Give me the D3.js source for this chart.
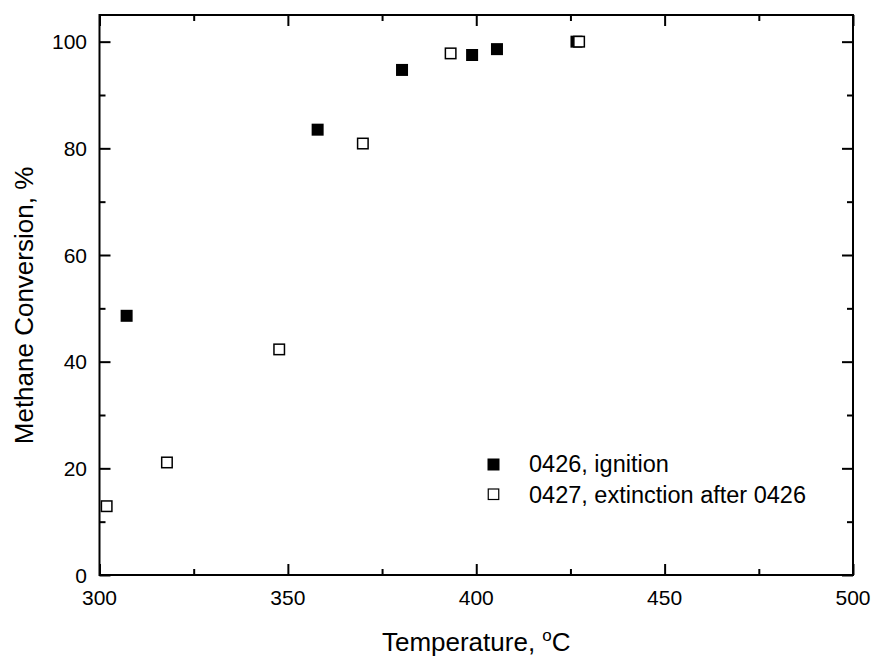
<!DOCTYPE html>
<html>
<head>
<meta charset="utf-8">
<script src="https://cdn.jsdelivr.net/npm/d3@7"></script>
<style>
  body { margin: 0; background: #fff; }
  text { font-family: Arial, "Liberation Sans", sans-serif; fill: #000; }
</style>
</head>
<body>
<svg id="chart" width="874" height="657"></svg>
<script>
// Data
var ignitionT = [307.2, 357.9, 380.3, 398.9, 405.5, 426.6];
var ignitionX = [48.6, 83.5, 94.7, 97.5, 98.6, 100.0];
var extinctionT = [301.9, 317.9, 347.7, 369.9, 393.2, 427.3];
var extinctionX = [12.9, 21.1, 42.3, 80.9, 97.8, 100.0];
var xTicks = [300, 350, 400, 450, 500];
var yTicks = [0, 20, 40, 60, 80, 100];
var legendLabels = ["0426, ignition", "0427, extinction after 0426"];

var svg = d3.select("#chart");
// plot box (note: "top" is taken by window.top, so use other names)
var plotL = 99.5, plotR = 853, plotT = 15, plotB = 575;

var x = d3.scaleLinear().domain([300, 500]).range([plotL, plotR]);
var y = d3.scaleLinear().domain([0, 105]).range([plotB, plotT]);

var g = svg.append("g");

// frame
g.append("rect")
  .attr("x", plotL).attr("y", plotT)
  .attr("width", plotR - plotL).attr("height", plotB - plotT)
  .attr("fill", "none").attr("stroke", "#000").attr("stroke-width", 2);

// inward ticks on all four sides
function ticks(axisFn, scale, values, size, transform) {
  g.append("g")
    .attr("transform", transform)
    .call(axisFn(scale).tickValues(values).tickSize(size).tickFormat(""))
    .call(function(s) {
      s.select(".domain").remove();
      s.selectAll(".tick line").attr("stroke", "#000").attr("stroke-width", 2);
    });
}
var xMinor = d3.range(325, 500, 50);
var yMinor = d3.range(10, 105, 20);
ticks(d3.axisTop, x, xTicks, 11, "translate(0," + plotB + ")");
ticks(d3.axisTop, x, xMinor, 6, "translate(0," + plotB + ")");
ticks(d3.axisBottom, x, xTicks, 11, "translate(0," + plotT + ")");
ticks(d3.axisBottom, x, xMinor, 6, "translate(0," + plotT + ")");
ticks(d3.axisRight, y, yTicks, 11, "translate(" + plotL + ",0)");
ticks(d3.axisRight, y, yMinor, 6, "translate(" + plotL + ",0)");
ticks(d3.axisLeft, y, yTicks, 11, "translate(" + plotR + ",0)");
ticks(d3.axisLeft, y, yMinor, 6, "translate(" + plotR + ",0)");

// tick labels
g.selectAll(".xlab").data(xTicks).enter().append("text")
  .attr("x", function(d) { return x(d); })
  .attr("y", 605)
  .attr("text-anchor", "middle")
  .style("font-size", "21px")
  .text(function(d) { return d; });

g.selectAll(".ylab").data(yTicks).enter().append("text")
  .attr("x", 87)
  .attr("y", function(d) { return y(d) + 7.5; })
  .attr("text-anchor", "end")
  .style("font-size", "21px")
  .text(function(d) { return d; });

// axis titles
var xt = g.append("text")
  .attr("x", (plotL + plotR) / 2).attr("y", 651)
  .attr("text-anchor", "middle")
  .style("font-size", "26px");
xt.append("tspan").text("Temperature, ");
xt.append("tspan").attr("dy", -10).style("font-size", "17px").text("o");
xt.append("tspan").attr("dy", 10).text("C");

g.append("text")
  .attr("transform", "translate(33,305.5) rotate(-90)")
  .attr("text-anchor", "middle")
  .style("font-size", "26px")
  .text("Methane Conversion, %");

// markers
var sz = 12;
var ignition = ignitionT.map(function(t, i) { return [t, ignitionX[i]]; });
var extinction = extinctionT.map(function(t, i) { return [t, extinctionX[i]]; });

g.selectAll(".ign").data(ignition).enter().append("rect")
  .attr("x", function(d) { return x(d[0]) - sz / 2; })
  .attr("y", function(d) { return y(d[1]) - sz / 2; })
  .attr("width", sz).attr("height", sz)
  .attr("fill", "#000");

g.selectAll(".ext").data(extinction).enter().append("rect")
  .attr("x", function(d) { return x(d[0]) - sz / 2 + 0.75; })
  .attr("y", function(d) { return y(d[1]) - sz / 2 + 0.75; })
  .attr("width", sz - 1.5).attr("height", sz - 1.5)
  .attr("fill", "#fff").attr("stroke", "#000").attr("stroke-width", 1.5);

// legend
var lg = g.append("g");
lg.append("rect").attr("x", 487.5).attr("y", 458.5).attr("width", 12).attr("height", 12).attr("fill", "#000");
lg.append("rect").attr("x", 488.25).attr("y", 489).attr("width", 10.5).attr("height", 10.5)
  .attr("fill", "#fff").attr("stroke", "#000").attr("stroke-width", 1.2);
lg.selectAll("text").data(legendLabels).enter().append("text")
  .attr("x", 529)
  .attr("y", function(d, i) { return 472 + i * 31; })
  .style("font-size", "23.5px")
  .text(function(d) { return d; });
</script>
</body>
</html>
